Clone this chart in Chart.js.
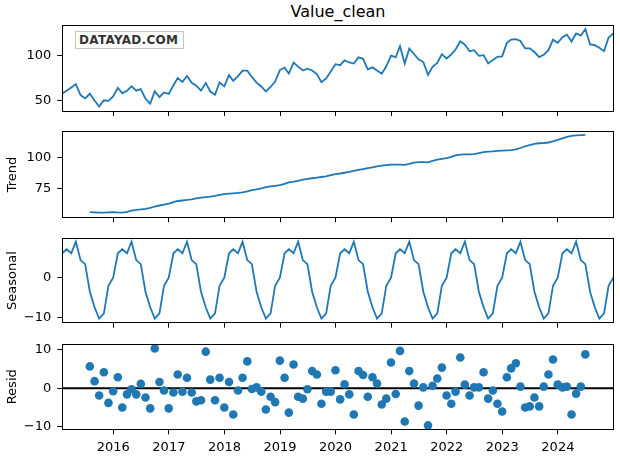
<!DOCTYPE html>
<html><head><meta charset="utf-8">
<script src="https://cdn.jsdelivr.net/npm/chart.js@4.4.1/dist/chart.umd.min.js"></script>
<style>
html,body{margin:0;padding:0;background:#fff;}
body{width:620px;height:457px;position:relative;overflow:hidden;font-family:"DejaVu Sans",sans-serif;}
canvas{position:absolute;left:0;}
#title{position:absolute;left:62px;width:552px;top:2px;text-align:center;font-size:16px;color:#000;line-height:20px;font-family:"DejaVu Sans";}
#wm{position:absolute;left:75px;top:31px;width:109px;height:18px;border:1px solid #c4c4c4;background:#fff;font-family:"DejaVu Sans";font-weight:bold;font-size:12px;letter-spacing:0.3px;color:#333;line-height:16px;padding-left:3px;box-sizing:border-box;z-index:5;}
</style></head><body>
<div id="title">Value_clean</div>
<canvas id="c0"></canvas>
<canvas id="c1"></canvas>
<canvas id="c2"></canvas>
<canvas id="c3"></canvas>
<div id="wm">DATAYAD.COM</div>
<script>
// ---- categories: month-end dates, Jan 2015 .. Dec 2024 ----
const startYear = 2015, nMonths = 120;
const months = [];
for (let k = 0; k < nMonths; k++) {
  const y = startYear + Math.floor(k / 12), m = k % 12 + 1;
  months.push(new Date(Date.UTC(y, m, 0)).toISOString().slice(0, 10));
}
const yearTicks = [2016, 2017, 2018, 2019, 2020, 2021, 2022, 2023, 2024];

// ---- series ----
const observed = [
  57.9,60.9,64.6,68.3,56.0,52.3,57.5,50.0,43.2,50.2,49.6,54.6,
  64.2,57.9,60.8,65.8,60.9,62.6,52.0,46.5,60.2,53.8,59.0,57.3,
  67.0,75.0,70.8,77.4,69.8,66.5,61.0,69.6,60.0,56.5,70.1,65.8,
  78.3,71.8,77.2,83.4,83.3,76.3,70.0,65.6,60.0,65.1,71.1,84.0,
  86.7,80.1,92.4,87.8,83.5,85.5,83.5,79.6,70.4,74.7,82.3,90.6,
  89.5,94.8,92.5,91.3,98.2,96.6,84.8,87.0,83.4,79.8,88.2,100.2,
  98.4,110.7,91.4,108.0,102.0,96.0,93.0,78.6,87.6,91.9,101.8,97.0,
  101.5,107.0,116.2,112.4,105.0,106.2,100.0,100.7,91.4,95.2,98.9,99.4,
  114.4,118.2,118.6,116.5,108.2,108.3,104.2,98.5,101.1,106.3,118.0,114.5,
  120.9,123.7,116.0,125.0,122.5,130.0,112.7,111.9,108.9,105.2,120.5,125.0
];
const trend = [
  null,null,null,null,null,null,56.3,56.2,55.9,55.9,56.2,56.4,
  56.1,55.9,56.6,57.6,58.2,58.5,58.9,59.8,60.8,61.6,62.3,63.1,
  64.2,65.2,65.6,66.0,66.5,67.2,67.9,68.3,68.6,69.3,70.1,70.7,
  71.1,71.3,71.6,72.1,72.8,73.8,74.5,75.3,76.2,76.8,77.3,77.9,
  78.9,80.0,80.6,81.3,82.2,82.8,83.3,83.8,84.3,84.8,85.8,86.6,
  87.1,87.7,88.4,89.2,89.9,90.6,91.3,92.0,92.7,93.3,93.8,94.1,
  94.2,94.1,94.0,94.8,95.8,96.1,96.1,96.0,97.2,98.1,98.7,99.3,
  100.4,101.6,102.2,102.3,102.3,102.6,103.4,104.1,104.5,104.8,105.2,105.4,
  105.6,105.8,106.3,107.4,108.8,109.8,110.7,111.2,111.4,111.8,112.7,113.9,
  115.1,116.2,117.0,117.4,117.6,117.9,null,null,null,null,null,null
];
const seasonal = [
  6.0,7.0,6.0,8.9,4.3,3.3,-3.6,-7.5,-10.3,-9.0,-2.1,-0.1,
  6.0,7.0,6.0,8.9,4.3,3.3,-3.6,-7.5,-10.3,-9.0,-2.1,-0.1,
  6.0,7.0,6.0,8.9,4.3,3.3,-3.6,-7.5,-10.3,-9.0,-2.1,-0.1,
  6.0,7.0,6.0,8.9,4.3,3.3,-3.6,-7.5,-10.3,-9.0,-2.1,-0.1,
  6.0,7.0,6.0,8.9,4.3,3.3,-3.6,-7.5,-10.3,-9.0,-2.1,-0.1,
  6.0,7.0,6.0,8.9,4.3,3.3,-3.6,-7.5,-10.3,-9.0,-2.1,-0.1,
  6.0,7.0,6.0,8.9,4.3,3.3,-3.6,-7.5,-10.3,-9.0,-2.1,-0.1,
  6.0,7.0,6.0,8.9,4.3,3.3,-3.6,-7.5,-10.3,-9.0,-2.1,-0.1,
  6.0,7.0,6.0,8.9,4.3,3.3,-3.6,-7.5,-10.3,-9.0,-2.1,-0.1,
  6.0,7.0,6.0,8.9,4.3,3.3,-3.6,-7.5,-10.3,-9.0,-2.1,-0.1
];
const resid = [
  null,null,null,null,null,null,5.6,1.8,-1.9,4.1,-3.8,-0.8,
  2.8,-5.0,-1.6,-0.3,-1.6,1.1,-2.4,-5.2,10.2,1.6,-0.6,-5.2,
  -1.1,3.5,-0.9,2.7,-1.1,-3.4,-3.1,9.4,2.2,-3.1,2.7,-5.0,
  1.6,-6.8,-0.6,2.7,6.9,-0.2,0.2,-0.9,-5.5,-2.2,-3.6,7.1,
  2.7,-6.3,6.1,-2.2,-2.7,-0.3,4.4,3.5,-4.0,-0.9,-0.9,4.6,
  -2.9,1.0,-1.6,-6.8,4.4,3.4,-2.2,2.8,1.2,-4.2,-2.7,6.6,
  -1.5,9.6,-8.6,4.4,1.2,-4.5,0.2,-9.6,0.6,2.5,5.3,-1.9,
  -4.0,-0.9,7.9,0.9,-1.9,0.2,0.2,4.1,-2.7,-0.6,-4.0,-6.0,
  2.8,5.1,6.4,0.4,-5.0,-4.7,-2.4,-4.7,0.4,3.5,7.4,0.9,
  0.2,0.4,-6.8,-1.4,0.4,8.7,null,null,null,null,null,null
];
const yTicksObs = [50, 100];
const yTicksTrend = [75, 100];
const yTicksSeas = [-10, 0];
const yTicksResid = [-10, 0, 10];

// ---- helpers ----
function decYear(s) {
  const d = new Date(s + 'T00:00:00Z');
  const y = d.getUTCFullYear();
  const a = Date.UTC(y, 0, 1), b = Date.UTC(y + 1, 0, 1);
  return y + (d.getTime() - a) / (b - a);
}
const xs = months.map(decYear);
const pts = arr => xs.map((x, i) => ({ x, y: arr[i] }));
const BLUE = '#1f77b4';
const FONT = { family: 'DejaVu Sans', size: 13 };
const L = 62.3, R = 613.3, W = 620;
const fmt = v => (v < 0 ? '\u2212' + Math.abs(v) : String(v));

const frame = {
  id: 'frame',
  afterDraw(c) {
    const a = c.chartArea, ctx = c.ctx;
    const x0 = Math.floor(a.left) + 0.5, x1 = Math.floor(a.right) + 0.5;
    const y0 = Math.floor(a.top) + 0.5, y1 = Math.floor(a.bottom) + 0.5;
    ctx.save();
    ctx.strokeStyle = '#000'; ctx.lineWidth = 1;
    ctx.strokeRect(x0, y0, x1 - x0, y1 - y0);
    ctx.restore();
  }
};

function makePanel(id, top, height, yMin, yMax, yTicks, yTitle, datasets, showX) {
  const canvas = document.getElementById(id);
  const ctop = Math.floor(top) - 18;
  const extra = showX ? 28 : 22;
  const ch = Math.ceil(top + height + extra) - ctop;
  canvas.width = W; canvas.height = ch;
  canvas.style.top = ctop + 'px';
  canvas.style.width = W + 'px'; canvas.style.height = ch + 'px';
  const padTop = top - ctop;
  const xH = showX ? 24 : 6;
  const padBottom = ch - padTop - height - xH;
  const gridOpt = { display: true, drawOnChartArea: false, drawTicks: true, tickLength: 5, tickWidth: 1, tickColor: '#000', color: '#000' };
  return new Chart(canvas, {
    type: 'line',
    data: { datasets },
    options: {
      responsive: false, animation: false, devicePixelRatio: 1,
      layout: { padding: { left: 0, right: W - R, top: padTop, bottom: padBottom } },
      plugins: { legend: { display: false }, tooltip: { enabled: false } },
      scales: {
        x: {
          type: 'linear', min: xs[0], max: xs[xs.length - 1],
          afterBuildTicks: s => { s.ticks = yearTicks.map(v => ({ value: v })); },
          afterFit: s => { s.height = xH; },
          grid: gridOpt, border: { display: false },
          ticks: { display: showX, callback: v => String(v), color: '#000', font: FONT, padding: 6, maxRotation: 0, autoSkip: false }
        },
        y: {
          type: 'linear', min: yMin, max: yMax,
          afterBuildTicks: s => { s.ticks = yTicks.map(v => ({ value: v })); },
          afterFit: s => { s.width = L; },
          grid: gridOpt, border: { display: false },
          ticks: { callback: fmt, color: '#000', font: FONT, padding: 6 },
          title: { display: !!yTitle, text: yTitle, color: '#000', font: FONT, padding: { top: 4.4, bottom: 0 } }
        }
      }
    },
    plugins: [frame]
  });
}

const lineDs = arr => ({ data: pts(arr), borderColor: BLUE, borderWidth: 1.8, pointRadius: 0, tension: 0, spanGaps: false, fill: false });

makePanel('c0', 25.3, 85.7, 38.2, 134.1, yTicksObs, '', [lineDs(observed)], false);
makePanel('c1', 131.7, 85.6, 52.2, 120.4, yTicksTrend, 'Trend', [lineDs(trend)], false);
makePanel('c2', 238.3, 84.4, -11.35, 9.75, yTicksSeas, 'Seasonal', [lineDs(seasonal)], false);
makePanel('c3', 344.3, 85.0, -10.6, 11.3, yTicksResid, 'Resid', [
  { type: 'scatter', data: pts(resid).filter(p => p.y !== null), backgroundColor: BLUE, borderWidth: 0, pointRadius: 4.3, order: 1 },
  { type: 'line', data: [{ x: xs[0], y: 0 }, { x: xs[xs.length - 1], y: 0 }], borderColor: '#000', borderWidth: 2, pointRadius: 0, order: 2 }
], true);
</script>
</body></html>
